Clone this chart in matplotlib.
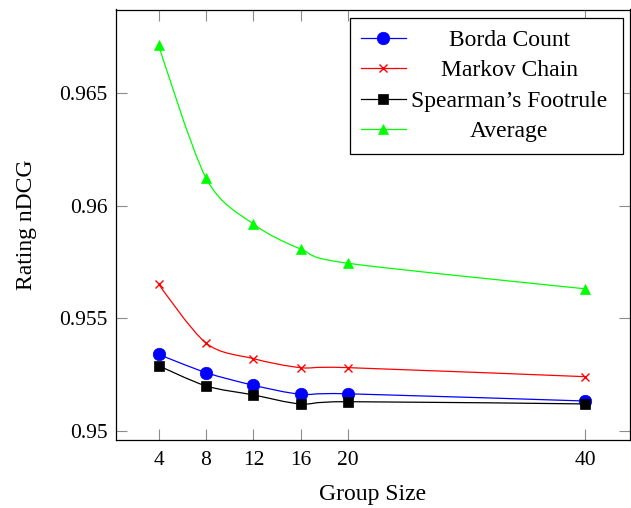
import numpy as np
import matplotlib
matplotlib.use('Agg')
import matplotlib.pyplot as plt
from matplotlib.path import Path
from matplotlib.patches import PathPatch
from matplotlib.lines import Line2D

plt.rcParams['font.family'] = ['Liberation Serif', 'DejaVu Serif']

# Datos
group_size = [4, 8, 12, 16, 20, 40]
borda = [0.9534, 0.95259, 0.95203, 0.95163, 0.95165, 0.95133]
markov = [0.95652, 0.9539, 0.95321, 0.95281, 0.95281, 0.95241]
spearman = [0.9529, 0.952, 0.9516, 0.9512, 0.9513, 0.9512]
average = [0.96712, 0.96122, 0.95918, 0.95807, 0.95744, 0.95631]

series = [
    ('Borda Count', borda, 'blue', 'o', 9),
    ('Markov Chain', markov, 'red', 'x', 6),
    ("Spearman’s Footrule", spearman, 'black', 's', 7.5),
    ('Average', average, 'lime', '^', 7.5),
]

yticks = [0.95, 0.955, 0.96, 0.965]
ytick_labels = ['0.95', '0.955', '0.96', '0.965']


# Curva suave estilo "smooth" (tension 0.55)
def smooth_path(x, y, tension=0.55):
    p = np.column_stack([x, y]).astype(float)
    f = 0.2775 * tension
    n = len(p)
    verts = [p[0]]
    codes = [Path.MOVETO]
    for i in range(n - 1):
        c1 = p[i] if i == 0 else p[i] + f * (p[i + 1] - p[i - 1])
        c2 = p[i + 1] if i == n - 2 else p[i + 1] - f * (p[i + 2] - p[i])
        verts += [c1, c2, p[i + 1]]
        codes += [Path.CURVE4] * 3
    return Path(verts, codes)


fig = plt.figure(figsize=(6.31, 5.08), dpi=100)
ax = fig.add_axes([116 / 631, 1 - 440 / 508, 514 / 631, 430.5 / 508])

handles = []
for name, vals, color, marker, ms in series:
    ax.add_patch(PathPatch(smooth_path(group_size, vals), facecolor='none',
                           edgecolor=color, lw=0.9))
    ax.plot(group_size, vals, linestyle='none', marker=marker, color=color,
            markersize=ms, markeredgewidth=1.0 if marker == 'x' else 0.5)
    handles.append(Line2D([], [], color=color, lw=0.9, marker=marker,
                          markersize=ms,
                          markeredgewidth=1.0 if marker == 'x' else 0.5))

ax.set_xlim(0.4, 43.8)
ax.set_ylim(0.9496, 0.9687)
ax.set_xticks(group_size)
ax.set_yticks(yticks)
ax.set_yticklabels(ytick_labels)
ax.tick_params(direction='in', length=8, width=0.8, color='0.55',
               top=True, right=True, labelsize=15.5)
ax.tick_params(axis='x', pad=8)
ax.tick_params(axis='y', pad=6)
for s in ax.spines.values():
    s.set_linewidth(0.9)

ax.set_xlabel('Group Size', fontsize=17, labelpad=10)
ax.set_ylabel('Rating nDCG', fontsize=17, labelpad=16)

leg = ax.legend(handles, [s[0] for s in series], loc='upper right',
                bbox_to_anchor=(0.986, 0.98), borderaxespad=0, fontsize=17,
                fancybox=False, edgecolor='black', framealpha=1,
                handlelength=1.9, handletextpad=0.4, labelspacing=0.38,
                borderpad=0.48)
leg.get_frame().set_linewidth(0.9)

# Centrar el texto de la leyenda como en pgfplots
fig.canvas.draw()
texts = leg.get_texts()
boxes = [t.get_window_extent() for t in texts]
cx = (min(b.x0 for b in boxes) + max(b.x1 for b in boxes)) / 2 - 4
inv = fig.transFigure.inverted()
for t, b in zip(texts, boxes):
    fx, fy = inv.transform((cx, (b.y0 + b.y1) / 2))
    fig.text(fx, fy, t.get_text(), ha='center', va='center', fontsize=17)
    t.set_alpha(0)

fig.savefig('out.png', dpi=100)
